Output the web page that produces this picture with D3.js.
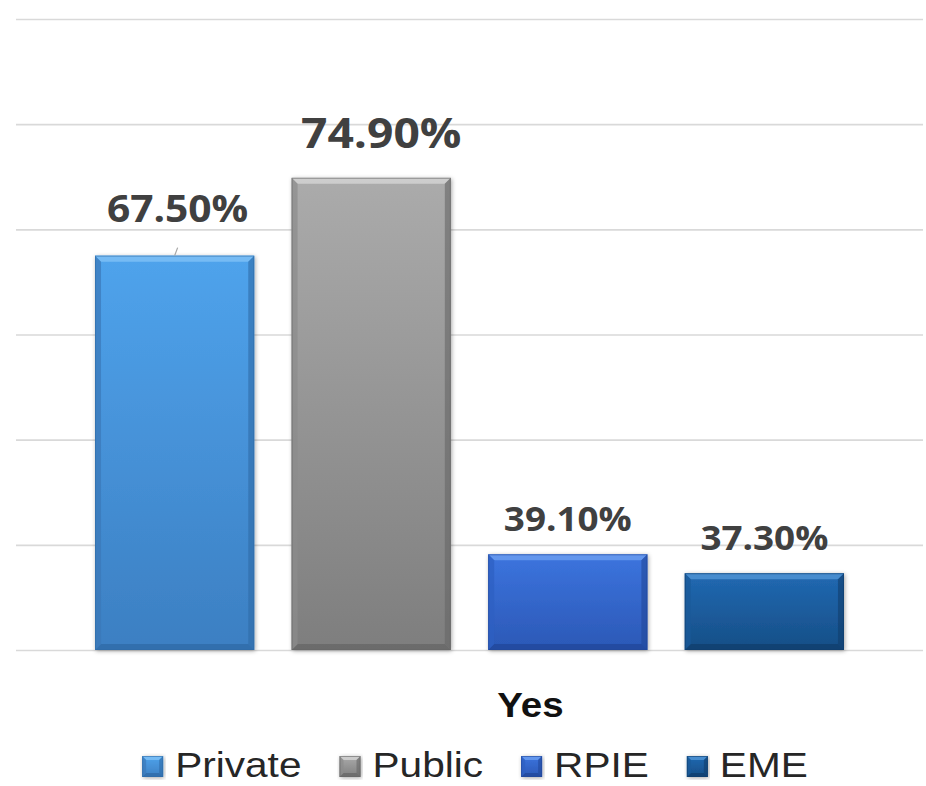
<!DOCTYPE html>
<html>
<head>
<meta charset="utf-8">
<script src="https://cdn.jsdelivr.net/npm/d3@7"></script>
<style>
  html, body { margin: 0; padding: 0; background: #ffffff; }
  svg { display: block; }
</style>
</head>
<body>
<svg id="chart" width="926" height="786"></svg>
<script>
// Share answering "Yes", by sector
const categories = ["Yes"];
const seriesNames = ["Private", "Public", "RPIE", "EME"];
const seriesValues = [67.5, 74.9, 39.1, 37.3];
const valueLabels = ["67.50%", "74.90%", "39.10%", "37.30%"];
const yTicks = [30, 40, 50, 60, 70, 80, 90];

// Fill ramps per series: [top, bottom, bevel light, bevel dark, edge]
const palette = {
  Private: ["#4fa3ec", "#3c7fc2", "#7cc0f6", "#2f6aa6", "#3a78b8"],
  Public:  ["#ababab", "#7e7e7e", "#d2d2d2", "#656565", "#8c8c8c"],
  RPIE:    ["#3c74de", "#2b58b6", "#6a9cf0", "#22479a", "#2e5fc2"],
  EME:     ["#2169b2", "#164e86", "#4d93d4", "#103d6c", "#195a98"]
};

const W = 926, H = 786;
const stretch = 1.1;               // horizontal text stretch
const svg = d3.select("#chart");
const defs = svg.append("defs");

// soft shadow under the bars
const shadow = defs.append("filter").attr("id", "barShadow")
  .attr("x", "-10%").attr("y", "-10%").attr("width", "120%").attr("height", "120%");
shadow.append("feDropShadow").attr("dx", 1).attr("dy", 1)
  .attr("stdDeviation", 2).attr("flood-color", "#000").attr("flood-opacity", 0.35);

seriesNames.forEach(name => {
  const g = defs.append("linearGradient").attr("id", "grad-" + name)
    .attr("x1", 0).attr("y1", 0).attr("x2", 0).attr("y2", 1);
  g.append("stop").attr("offset", "0%").attr("stop-color", palette[name][0]);
  g.append("stop").attr("offset", "100%").attr("stop-color", palette[name][1]);
});

// scales
const plotLeft = 16, plotRight = 923;
const y = d3.scaleLinear().domain([30, 90]).range([650, 19]);
const x0 = d3.scaleBand().domain(categories).range([plotLeft, plotRight])
  .paddingInner(0).paddingOuter(0.1055);
const x1 = d3.scaleBand().domain(seriesNames).range([0, x0.bandwidth()])
  .paddingInner(0.19).paddingOuter(0);

// gridlines
const yAxis = d3.axisLeft(y).tickValues(yTicks)
  .tickSize(-(plotRight - plotLeft)).tickFormat("");
const gridG = svg.append("g").attr("transform", `translate(${plotLeft},0)`).call(yAxis);
gridG.select(".domain").remove();
gridG.selectAll(".tick line").attr("stroke", "#d9d9d9").attr("stroke-width", 1.6);

// bevelled bar
function bevelBar(g, x, yTop, w, h, b, name) {
  const p = palette[name];
  g.append("rect").attr("x", x).attr("y", yTop).attr("width", w).attr("height", h)
    .attr("fill", `url(#grad-${name})`).attr("filter", "url(#barShadow)");
  const poly = pts => g.append("polygon").attr("points", pts.map(d => d.join(",")).join(" "));
  const xr = x + w, yb = yTop + h;
  poly([[x, yTop], [xr, yTop], [xr - b, yTop + b], [x + b, yTop + b]])
    .attr("fill", p[2]).attr("opacity", 0.85);
  poly([[x, yb], [xr, yb], [xr - b, yb - b], [x + b, yb - b]])
    .attr("fill", p[3]).attr("opacity", 0.75);
  poly([[x, yTop], [x + b, yTop + b], [x + b, yb - b], [x, yb]])
    .attr("fill", p[4]).attr("opacity", 0.7);
  poly([[xr, yTop], [xr - b, yTop + b], [xr - b, yb - b], [xr, yb]])
    .attr("fill", p[3]).attr("opacity", 0.6);
  g.append("rect").attr("x", x + 0.5).attr("y", yTop + 0.5)
    .attr("width", w - 1).attr("height", h - 1)
    .attr("fill", "none").attr("stroke", p[3]).attr("stroke-width", 1).attr("opacity", 0.6);
}

const barsG = svg.append("g");
seriesNames.forEach((name, i) => {
  const bx = x0(categories[0]) + x1(name);
  const by = y(seriesValues[i]);
  bevelBar(barsG.append("g"), bx, by, x1.bandwidth(), y(30) - by, 6, name);
});

// value labels (offsets from bar centre / bar top, font size)
const labelStyle = [
  { dx: 3,  dy: -34, size: 37 },
  { dx: 10, dy: -30, size: 42 },
  { dx: 0,  dy: -23, size: 33.5 },
  { dx: 0,  dy: -23, size: 33.5 }
];
seriesNames.forEach((name, i) => {
  const cx = x0(categories[0]) + x1(name) + x1.bandwidth() / 2 + labelStyle[i].dx;
  const cy = y(seriesValues[i]) + labelStyle[i].dy;
  svg.append("text")
    .attr("transform", `translate(${cx},${cy}) scale(${stretch},1)`)
    .attr("text-anchor", "middle")
    .attr("font-family", "'Open Sans', sans-serif")
    .attr("font-weight", 700)
    .attr("font-size", labelStyle[i].size)
    .attr("fill", "#404040")
    .text(valueLabels[i]);
});

// leader line for the first label
{
  const cx = x0(categories[0]) + x1(seriesNames[0]) + x1.bandwidth() / 2;
  const top = y(seriesValues[0]);
  svg.append("line")
    .attr("x1", cx + 3).attr("y1", top - 8).attr("x2", cx).attr("y2", top)
    .attr("stroke", "#a6a6a6").attr("stroke-width", 1.2);
}

// category axis label
svg.append("text")
  .attr("transform", `translate(${x0(categories[0]) + x0.bandwidth() / 2 + 61},717) scale(${stretch},1)`)
  .attr("text-anchor", "middle")
  .attr("font-family", "'Liberation Sans', Arial, sans-serif")
  .attr("font-weight", 700)
  .attr("font-size", 35)
  .attr("fill", "#111111")
  .text(categories[0]);

// legend
const legendStretch = 1.16;
const legendG = svg.append("g");
const sw = 21, swGap = 12, itemGap = 38, legendBase = 777;
let cursor = 0;
const items = [];
seriesNames.forEach(name => {
  const item = legendG.append("g");
  const txt = item.append("text")
    .attr("font-family", "'Liberation Sans', Arial, sans-serif")
    .attr("font-size", 35)
    .attr("fill", "#262626")
    .text(name);
  const tw = txt.node().getComputedTextLength() * legendStretch;
  items.push({ item, txt, name, x: cursor, tw });
  cursor += sw + swGap + tw + itemGap;
});
const legendWidth = cursor - itemGap;
const legendStart = 475 - legendWidth / 2;
items.forEach(d => {
  const lx = legendStart + d.x;
  bevelBar(d.item.append("g"), lx, 756, sw, sw, 4, d.name);
  d.txt.attr("transform", `translate(${lx + sw + swGap},${legendBase}) scale(${legendStretch},1)`);
});
</script>
</body>
</html>
